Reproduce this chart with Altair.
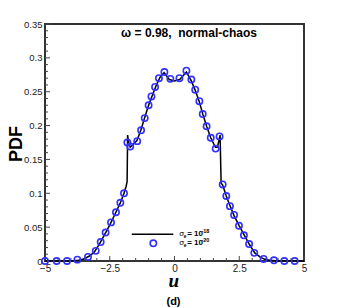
import altair as alt
import pandas as pd

# ---- data ----
circ_x = [-5.0, -4.55, -4.15, -3.75, -3.34, -3.04, -2.85, -2.66, -2.45, -2.26, -2.09, -1.95,
          -1.82, -1.71, -1.44, -1.29, -1.15, -1.0, -0.89, -0.75, -0.6, -0.39, -0.16, 0.19,
          0.46, 0.65, 0.80, 0.96, 1.09, 1.24, 1.40, 1.59, 1.74, 1.86, 2.0, 2.14, 2.30, 2.49,
          2.68, 2.88, 3.08, 3.44, 3.84, 4.24, 4.64]
circ_y = [0.0, 0.0, 0.0, 0.002, 0.006, 0.015, 0.028, 0.042, 0.057, 0.072, 0.086, 0.100,
          0.175, 0.169, 0.177, 0.193, 0.211, 0.230, 0.243, 0.257, 0.270, 0.279, 0.269, 0.270,
          0.281, 0.268, 0.253, 0.236, 0.217, 0.199, 0.182, 0.166, 0.184, 0.113, 0.096, 0.081,
          0.068, 0.052, 0.038, 0.025, 0.012, 0.003, 0.001, 0.0, 0.0]

line_x = [-5, -4.5, -4, -3.7, -3.5, -3.3, -3.1, -2.9, -2.7, -2.5, -2.3, -2.1, -1.95, -1.87, -1.83,
          -1.81, -1.77, -1.71, -1.6, -1.45, -1.3, -1.15, -1.0, -0.85, -0.7, -0.55, -0.4, -0.2, 0.0, 0.2,
          0.46, 0.65, 0.8, 0.96, 1.1, 1.25, 1.4, 1.58, 1.66, 1.76, 1.8, 1.86, 2.0, 2.15, 2.3,
          2.5, 2.7, 2.9, 3.1, 3.3, 3.5, 3.7, 4, 4.5, 5]
line_y = [0, 0, 0, 0.001, 0.003, 0.007, 0.013, 0.025, 0.039, 0.053, 0.069, 0.085, 0.100, 0.110, 0.117,
          0.186, 0.174, 0.168, 0.172, 0.178, 0.193, 0.212, 0.230, 0.245, 0.260, 0.272, 0.278, 0.268, 0.266, 0.268,
          0.279, 0.266, 0.252, 0.235, 0.216, 0.198, 0.182, 0.168, 0.168, 0.186, 0.115, 0.112, 0.096, 0.081, 0.067,
          0.052, 0.038, 0.024, 0.012, 0.006, 0.002, 0.001, 0, 0, 0]

x_major = [-5, -2.5, 0, 2.5, 5]
x_minor = [-4.5, -4, -3.5, -3, -2, -1.5, -1, -0.5, 0.5, 1, 1.5, 2, 3, 3.5, 4, 4.5]
y_major = [0, 0.05, 0.1, 0.15, 0.2, 0.25, 0.3, 0.35]
y_minor = [0.01, 0.02, 0.03, 0.04, 0.06, 0.07, 0.08, 0.09, 0.11, 0.12, 0.13, 0.14,
           0.16, 0.17, 0.18, 0.19, 0.21, 0.22, 0.23, 0.24, 0.26, 0.27, 0.28, 0.29,
           0.31, 0.32, 0.33, 0.34]

title_text = "ω = 0.98,\u00a0\u00a0normal-chaos"
ylabel = "PDF"
xlabel = "u"
panel = "(d)"
leg_sigma = "σ"
leg_sub = "e"
leg_eq = "= 10"
leg_sup = ["-18", "-20"]

W, H = 259, 237
FONT = "Liberation Sans"
BLUE = "#3030ff"

xs = alt.Scale(domain=[-5, 5], nice=False, zero=False)
ys = alt.Scale(domain=[0, 0.35], nice=False, zero=False)

XAX = alt.Axis(values=x_major, format=".2~g", tickSize=0, domain=False, grid=False, title=None,
               labelFontSize=10, labelPadding=2, labelFlush=False, labelOverlap=False,
               labelColor="#222", labelFont=FONT)
YAX = alt.Axis(values=y_major, format=".2~f", tickSize=0, domain=False, grid=False, title=None,
               labelFontSize=9.5, labelPadding=3, labelFlush=False, labelOverlap=False,
               labelColor="#222", labelFont=FONT)

df_line = pd.DataFrame({"x": line_x, "y": line_y})
df_circ = pd.DataFrame({"x": circ_x, "y": circ_y})
one = pd.DataFrame({"a": [0]})

line = alt.Chart(df_line).mark_line(color="black", strokeWidth=1.5).encode(
    x=alt.X("x:Q", scale=xs, axis=XAX),
    y=alt.Y("y:Q", scale=ys, axis=YAX),
)

pts = alt.Chart(df_circ).mark_point(shape="circle", filled=False, size=40, strokeWidth=1.6,
                                    color=BLUE, opacity=1).encode(
    x=alt.X("x:Q", scale=xs, axis=XAX),
    y=alt.Y("y:Q", scale=ys, axis=YAX),
)

def xticks(vals, length):
    return alt.Chart(pd.DataFrame({"x": vals})).mark_rule(color="#444", strokeWidth=1).encode(
        x=alt.X("x:Q", scale=xs, axis=XAX), y=alt.value(H), y2=alt.value(H - length))

def yticks(vals, length):
    return alt.Chart(pd.DataFrame({"y": vals})).mark_rule(color="#444", strokeWidth=1).encode(
        y=alt.Y("y:Q", scale=ys, axis=YAX), x=alt.value(0), x2=alt.value(length))

def txt(t, x, y, size, bold=True, font=FONT, italic=False, align="left", angle=0, baseline="alphabetic"):
    kw = dict(fontSize=size, font=font, fontWeight="bold" if bold else "normal",
              align=align, baseline=baseline, color="black")
    if italic:
        kw["fontStyle"] = "italic"
    if angle:
        kw["angle"] = angle
    return alt.Chart(pd.DataFrame({"t": [t]})).mark_text(**kw).encode(
        x=alt.value(x), y=alt.value(y), text="t:N")

layers = [
    xticks(x_minor, 3), xticks(x_major, 5), yticks(y_minor, 3), yticks(y_major, 5),
    line, pts,
    txt(title_text, 144, 12.7, 12, align="center"),
    txt(ylabel, -23.5, 120, 18, align="center", angle=270),
    txt(xlabel, 128.8, 262.7, 19, font="Liberation Serif", italic=True, align="center"),
    txt(panel, 128.5, 280.5, 11, align="center"),
    # legend
    alt.Chart(one).mark_rule(color="black", strokeWidth=1.5).encode(
        x=alt.value(86.7), x2=alt.value(128.3), y=alt.value(210.3)),
    alt.Chart(one).mark_point(shape="circle", filled=False, size=40, strokeWidth=1.6,
                              color=BLUE, opacity=1).encode(x=alt.value(108.3), y=alt.value(219.3)),
]
for row, sup in zip([212.3, 221.3], leg_sup):
    layers += [
        txt(leg_sigma, 134.3, row, 8, bold=False),
        txt(leg_sub, 138.8, row + 1.2, 5),
        txt(leg_eq, 142.2, row, 8),
        txt(sup, 156.4, row - 3.6, 5.5),
    ]

chart = alt.layer(*layers).properties(
    width=W, height=H,
    autosize=alt.AutoSizeParams(type="none"),
    padding={"left": 37, "top": 16, "right": 34, "bottom": 47},
).configure_view(stroke="#333", strokeWidth=2)

chart.save("out.html", embed_options={"renderer": "svg", "actions": False})
